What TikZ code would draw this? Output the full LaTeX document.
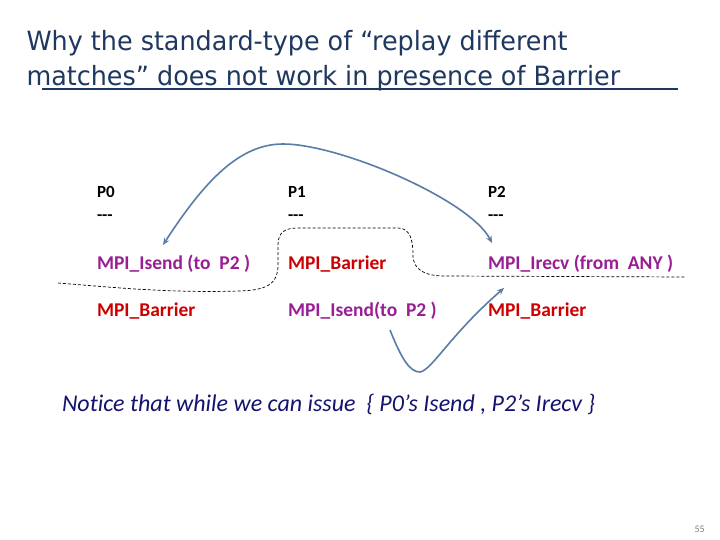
\documentclass[tikz,border=0pt]{standalone}
\usepackage{fontspec}
\usetikzlibrary{arrows.meta}
\setmainfont{Carlito}
\newfontfamily\titlefont[FakeStretch=0.96]{DejaVu Sans}
\definecolor{titleblue}{RGB}{31,56,96}
\definecolor{sendpurple}{RGB}{153,30,150}
\definecolor{barred}{RGB}{204,0,0}
\definecolor{notenavy}{RGB}{20,20,110}
\definecolor{arrowblue}{RGB}{88,125,168}

\begin{document}
\begin{tikzpicture}[x=1pt,y=-1pt,
  every node/.style={anchor=base west, inner sep=0pt, outer sep=0pt},
  proc/.style={font=\fontsize{17}{20}\selectfont\bfseries, text=black},
  isend/.style={font=\fontsize{19.5}{22}\selectfont\bfseries, text=sendpurple},
  barrier/.style={font=\fontsize{19.5}{22}\selectfont\bfseries, text=barred},
  match/.style={draw=arrowblue, line width=1.6pt}]
\useasboundingbox[fill=white] (0,0) rectangle (720,540);

% title
\node[font=\titlefont\fontsize{26.5}{30}\selectfont, text=titleblue] (title1) at (26.5,51) {Why the standard-type of “replay different};
\node[font=\titlefont\fontsize{26.5}{30}\selectfont, text=titleblue] (title2) at (26.5,86) {matches” does not work in presence of Barrier};
\draw[titleblue, line width=2pt] (42,89.5) -- (678,89.5);

% process columns
\node[proc] (p0) at (97,197.7) {P0};
\node[proc] (p0dash) at (97,221) {-{}-{}-};
\node[isend] (isend0) at (97,269.5) {MPI\_Isend (to~ P2 )};
\node[barrier] (barrier0) at (97,316.5) {MPI\_Barrier};

\node[proc] (p1) at (288,197.7) {P1};
\node[proc] (p1dash) at (288,221) {-{}-{}-};
\node[barrier] (barrier1) at (288,269.5) {MPI\_Barrier};
\node[isend] (isend1) at (288,316.5) {MPI\_Isend(to~ P2 )};

\node[proc] (p2) at (488,197.7) {P2};
\node[proc] (p2dash) at (488,221) {-{}-{}-};
\node[isend] (irecv2) at (488,269.5) {MPI\_Irecv (from~ ANY )};
\node[barrier] (barrier2) at (488,316.5) {MPI\_Barrier};

% cut line
\draw[line width=0.7pt, dash pattern=on 3pt off 2pt] (58,283) .. controls (120,288) and (170,293) .. (240,291)
  .. controls (270,290) and (278,282) .. (278,265) -- (278,245)
  .. controls (278,232) and (285,228) .. (298,228) -- (398,228)
  .. controls (410,228) and (413,240) .. (413,255)
  .. controls (413,270) and (425,276) .. (445,276) -- (686,277);

% matches
\coordinate (sendtip) at (163,245);
\coordinate (peak) at (283,144);
\coordinate (recvtip) at (492,243);
\draw[match, {Stealth[length=7pt,width=6pt]}-{Stealth[length=7pt,width=6pt]}] (sendtip) .. controls (205,180) and (240,144) .. (peak)
  .. controls (340,144) and (470,200) .. (recvtip);

\coordinate (sendfoot) at (390,330);
\coordinate (dip) at (420,372);
\coordinate (recvline) at (504,288);
\draw[match, -{Stealth[length=7pt,width=6pt]}] (sendfoot) .. controls (402,360) and (410,372) .. (dip)
  .. controls (432,370) and (450,335) .. (recvline);

% remark
\node[font=\fontsize{24}{28}\selectfont\itshape\addfontfeatures{Ligatures=NoCommon}, text=notenavy] (note) at (62,411) {Notice that while we can issue~ \{ P0’s Isend , P2’s Irecv \}};

\node[font=\fontsize{10}{12}\selectfont, text=gray] (pageno) at (694.5,532) {55};
\end{tikzpicture}
\end{document}
